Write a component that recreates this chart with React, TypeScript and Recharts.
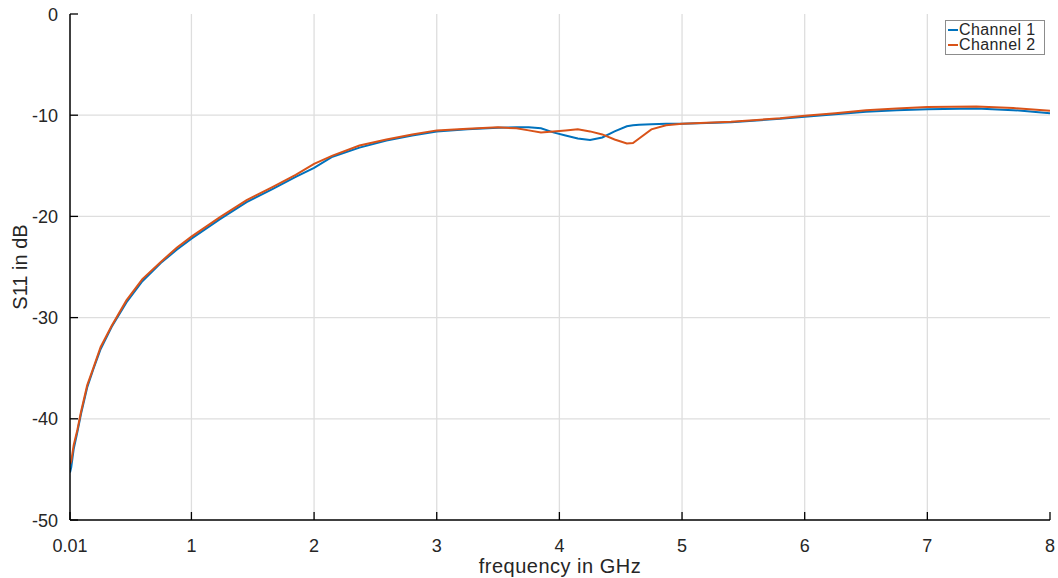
import React from 'react';
import { LineChart, Line, XAxis, YAxis, CartesianGrid, Legend, Label } from 'recharts';

// frequency points in GHz
const freqs = [
  0.01, 0.02, 0.04, 0.07, 0.1, 0.15, 0.2, 0.26, 0.35, 0.47, 0.6, 0.75, 0.88, 1.0,
  1.23, 1.45, 1.66, 1.85, 2.0, 2.15, 2.37, 2.59, 2.8, 3.0, 3.25, 3.5, 3.65, 3.75,
  3.85, 3.95, 4.05, 4.15, 4.25, 4.35, 4.45, 4.55, 4.6, 4.65, 4.75, 4.87, 5.0, 5.4,
  5.8, 6.0, 6.25, 6.5, 6.75, 7.0, 7.4, 7.7, 8.0,
];

const channel1 = [
  -45.3, -44.8, -43.0, -41.3, -39.5, -36.9, -35.1, -33.1, -30.9, -28.5, -26.4, -24.6, -23.3, -22.2,
  -20.3, -18.6, -17.3, -16.1, -15.2, -14.1, -13.2, -12.5, -12.0, -11.6, -11.4, -11.25, -11.2, -11.2,
  -11.3, -11.7, -12.0, -12.3, -12.45, -12.2, -11.6, -11.1, -11.0, -10.95, -10.9, -10.85, -10.85, -10.7,
  -10.35, -10.15, -9.9, -9.65, -9.5, -9.4, -9.35, -9.5, -9.8,
];

const channel2 = [
  -44.5, -44.2, -42.6, -41.1, -39.3, -36.7, -35.0, -32.9, -30.8, -28.3, -26.2, -24.5, -23.1, -22.0,
  -20.1, -18.4, -17.1, -15.9, -14.8, -14.0, -13.0, -12.4, -11.9, -11.5, -11.35, -11.2, -11.3, -11.5,
  -11.7, -11.6, -11.5, -11.4, -11.6, -11.9, -12.4, -12.8, -12.75, -12.3, -11.4, -11.0, -10.85, -10.65,
  -10.3, -10.05, -9.8, -9.5, -9.35, -9.2, -9.15, -9.3, -9.55,
];

const xTicks = [0.01, 1, 2, 3, 4, 5, 6, 7, 8];
const yTicks = [-50, -40, -30, -20, -10, 0];

const BLUE = '#0072BD';
const ORANGE = '#D95319';
const TEXT = '#262626';
const FONT = '"Liberation Sans", Arial, Helvetica, sans-serif';

const data = freqs.map((f, i) => ({ f, ch1: channel1[i], ch2: channel2[i] }));

const XTick = (props: any) => {
  const { x, y, payload } = props;
  return (
    <g>
      <line x1={x} y1={y} x2={x} y2={y - 8} stroke="#000" strokeWidth={1.3} />
      <text x={x} y={y + 32} textAnchor="middle" fill={TEXT} fontSize={18} fontFamily={FONT}>
        {payload.value}
      </text>
    </g>
  );
};

const YTick = (props: any) => {
  const { x, y, payload } = props;
  return (
    <g>
      <line x1={x} y1={y} x2={x + 8} y2={y} stroke="#000" strokeWidth={1.3} />
      <text x={x - 12} y={y + 6.5} textAnchor="end" fill={TEXT} fontSize={18} fontFamily={FONT}>
        {payload.value}
      </text>
    </g>
  );
};

const LegendBox = () => (
  <div
    style={{
      boxSizing: 'border-box',
      width: 100,
      height: 35,
      border: '1px solid #8c8c8c',
      background: '#fff',
      padding: '1px 2px',
      fontFamily: FONT,
      fontSize: 16,
      color: TEXT,
      lineHeight: '15px',
    }}
  >
    {[
      { name: 'Channel 1', color: BLUE },
      { name: 'Channel 2', color: ORANGE },
    ].map((item) => (
      <div key={item.name} style={{ display: 'flex', alignItems: 'center', whiteSpace: 'nowrap' }}>
        <span style={{ display: 'inline-block', width: 10, height: 2, background: item.color, marginRight: 1 }} />
        <span style={{ letterSpacing: 0.4 }}>{item.name}</span>
      </div>
    ))}
  </div>
);

export default function App() {
  return (
    <div style={{ position: 'absolute', left: 0, top: 0 }}>
      <LineChart
        width={1058}
        height={578}
        data={data}
        margin={{ top: 14, right: 8, bottom: 0, left: 0 }}
      >
        <CartesianGrid stroke="#dedede" strokeWidth={1.3} horizontalValues={[-40, -30, -20, -10]} verticalValues={[1, 2, 3, 4, 5, 6, 7]} />
        <XAxis
          dataKey="f"
          type="number"
          domain={[0.01, 8]}
          ticks={xTicks}
          interval={0}
          height={58}
          tickSize={0}
          tickMargin={0}
          tickLine={false}
          tick={<XTick />}
          axisLine={{ stroke: '#000', strokeWidth: 1.5 }}
          allowDataOverflow
        >
          <Label value="frequency in GHz" position="insideBottom" offset={5} fill={TEXT} fontSize={20} fontFamily={FONT} letterSpacing={0.5} />
        </XAxis>
        <XAxis xAxisId="top" orientation="top" dataKey="f" type="number" domain={[0.01, 8]} height={0} tick={false} tickLine={false} axisLine={{ stroke: '#000', strokeWidth: 1.2 }} />
        <YAxis
          domain={[-50, 0]}
          ticks={yTicks}
          interval={0}
          width={70}
          tickSize={0}
          tickMargin={0}
          tickLine={false}
          tick={<YTick />}
          axisLine={{ stroke: '#000', strokeWidth: 1.5 }}
          allowDataOverflow
        >
          <Label value="S11 in dB" angle={-90} position="insideLeft" offset={20} fill={TEXT} fontSize={20} fontFamily={FONT} style={{ textAnchor: 'middle' }} />
        </YAxis>
        <YAxis yAxisId="right" orientation="right" domain={[-50, 0]} width={0} tick={false} tickLine={false} axisLine={{ stroke: '#000', strokeWidth: 1.2 }} />
        <Legend
          layout="vertical"
          align="center"
          verticalAlign="middle"
          content={<LegendBox />}
          wrapperStyle={{ top: 20, left: 945, width: 'auto', height: 'auto' }}
        />
        <Line type="linear" dataKey="ch1" stroke={BLUE} strokeWidth={2} dot={false} isAnimationActive={false} />
        <Line type="linear" dataKey="ch2" stroke={ORANGE} strokeWidth={2} dot={false} isAnimationActive={false} />
      </LineChart>
    </div>
  );
}
